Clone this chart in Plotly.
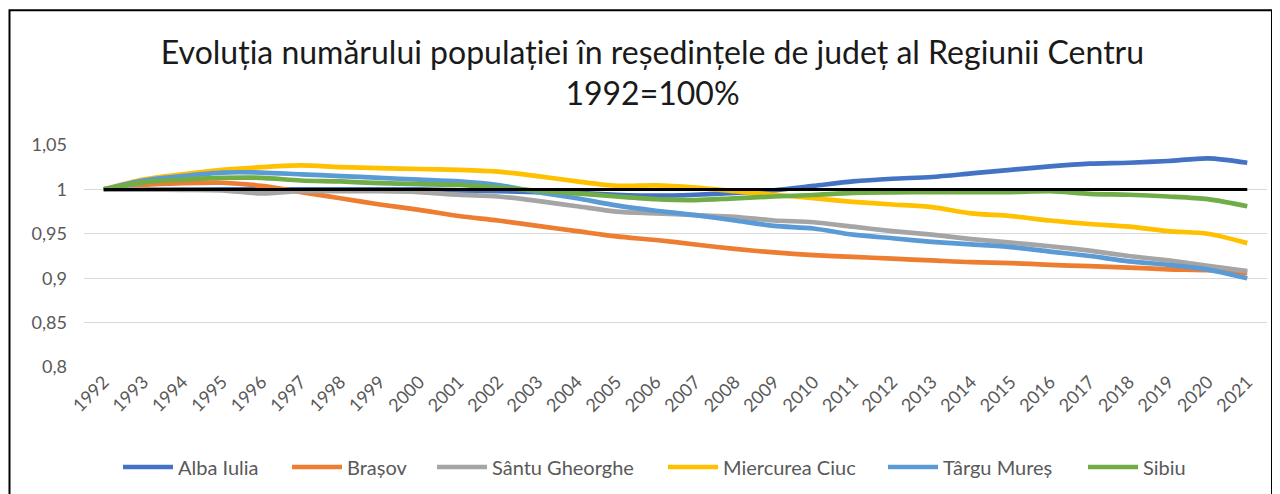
import plotly.graph_objects as go

years = list(range(1992, 2022))
year_labels = [str(y) for y in years]

alba_iulia = [1.0, 1.0, 1.0, 1.0, 1.0, 1.0, 1.0, 1.0, 1.0, 0.999, 0.998, 0.997, 0.996, 0.994, 0.993,
              0.994, 0.996, 0.999, 1.004, 1.009, 1.012, 1.014, 1.018, 1.022, 1.026, 1.029, 1.030, 1.032, 1.035, 1.030]
brasov = [1.0, 1.005, 1.007, 1.0075, 1.004, 0.997, 0.990, 0.983, 0.977, 0.970, 0.965, 0.959, 0.953, 0.947, 0.943,
          0.938, 0.933, 0.929, 0.926, 0.924, 0.922, 0.920, 0.918, 0.917, 0.915, 0.9135, 0.912, 0.910, 0.909, 0.906]
santu_gheorghe = [1.0, 1.0, 0.9995, 0.999, 0.9955, 0.998, 0.998, 0.998, 0.997, 0.994, 0.992, 0.987, 0.981, 0.975, 0.973,
                  0.971, 0.969, 0.965, 0.963, 0.958, 0.953, 0.949, 0.944, 0.940, 0.936, 0.931, 0.925, 0.920, 0.914, 0.908]
miercurea_ciuc = [1.0, 1.011, 1.017, 1.022, 1.025, 1.027, 1.025, 1.024, 1.023, 1.022, 1.020, 1.015, 1.009, 1.004, 1.0045,
                  1.002, 0.998, 0.994, 0.990, 0.986, 0.983, 0.980, 0.973, 0.970, 0.965, 0.961, 0.958, 0.953, 0.950, 0.9395]
targu_mures = [1.0, 1.010, 1.015, 1.019, 1.019, 1.017, 1.015, 1.013, 1.011, 1.009, 1.005, 0.997, 0.990, 0.982, 0.976,
               0.971, 0.965, 0.959, 0.956, 0.949, 0.945, 0.941, 0.938, 0.935, 0.930, 0.925, 0.919, 0.915, 0.9097, 0.900]
sibiu = [1.0, 1.008, 1.011, 1.013, 1.013, 1.010, 1.009, 1.007, 1.006, 1.005, 1.002, 0.9985, 0.9955, 0.992, 0.989,
         0.988, 0.990, 0.992, 0.9937, 0.996, 0.9966, 0.997, 0.997, 0.997, 0.998, 0.995, 0.994, 0.992, 0.989, 0.981]
reference = [1.0] * len(years)

series_names = ["Alba Iulia", "Brașov", "Sântu Gheorghe", "Miercurea Ciuc", "Târgu Mureș", "Sibiu"]
series_values = [alba_iulia, brasov, santu_gheorghe, miercurea_ciuc, targu_mures, sibiu]
series_colors = ["#4472C4", "#ED7D31", "#A5A5A5", "#FFC000", "#5B9BD5", "#70AD47"]

y_ticks = [0.8, 0.85, 0.9, 0.95, 1.0, 1.05]
y_tick_labels = ["0,8", "0,85", "0,9", "0,95", "1", "1,05"]

FONT = "Lato"

# page offset of the figure inside the html body (default body margin)
OFF = 8
W, H = 1280, 494
L, R, T, B = 84 - OFF, 21, 145 - OFF, 134.5
pw, ph = W - L - R, H - T - B

def px_x(v):
    return (v - L) / pw

def px_y(v):
    return (H - B - v) / ph

legend_starts = [118, 287, 432, 663, 883, 1083]

fig = go.Figure()
layout_legends = {}
for i, (name, vals, col) in enumerate(zip(series_names, series_values, series_colors)):
    lg = "legend" if i == 0 else f"legend{i + 1}"
    fig.add_trace(go.Scatter(x=years, y=vals, name=name, mode="lines", legend=lg,
                             line=dict(color=col, width=4.7, shape="spline", smoothing=0.8)))
    layout_legends[lg] = dict(orientation="h", xref="container", yref="container",
                              x=(legend_starts[i] - OFF) / W, xanchor="left",
                              y=1 - (467 - OFF) / H, yanchor="middle",
                              font=dict(family=FONT, size=20, color="#595959"),
                              itemwidth=50, bgcolor="rgba(0,0,0,0)", borderwidth=0)
fig.add_trace(go.Scatter(x=years, y=reference, name="100%", mode="lines", showlegend=False,
                         line=dict(color="#000000", width=3)))

fig.update_layout(
    width=W, height=H,
    margin=dict(l=L, r=R, t=T, b=B, autoexpand=False),
    paper_bgcolor="white", plot_bgcolor="white",
    font=dict(family=FONT, color="#595959", size=17),
    title=dict(text="Evoluția numărului populației în reședințele de județ al Regiunii Centru<br>1992=100%",
               x=(652.5 - OFF) / W, xanchor="center", y=1 - 55.5 / H, yanchor="middle",
               font=dict(family=FONT, size=32, color="#1a1a1a")),
    showlegend=True,
    xaxis=dict(range=[1991.5, 2021.5], tickvals=years, ticktext=year_labels, tickangle=-45,
               showgrid=False, zeroline=False, showline=False, ticks="", automargin=False,
               tickfont=dict(family=FONT, size=18, color="#595959")),
    yaxis=dict(range=[0.8, 1.05], tickvals=y_ticks, ticktext=y_tick_labels, showgrid=True,
               gridcolor="#D9D9D9", gridwidth=1.3, zeroline=False, showline=False, ticks="",
               ticklabelstandoff=16, automargin=False,
               tickfont=dict(family=FONT, size=18, color="#595959")),
    shapes=[dict(type="path", xref="paper", yref="paper",
                 path=(f"M {px_x(1.5)} {px_y(600)} L {px_x(1.5)} {px_y(2)} "
                       f"L {px_x(1264)} {px_y(2)} L {px_x(1264)} {px_y(600)}"),
                 line=dict(color="#000000", width=2))],
    **layout_legends,
)

fig.write_html("out.html")
